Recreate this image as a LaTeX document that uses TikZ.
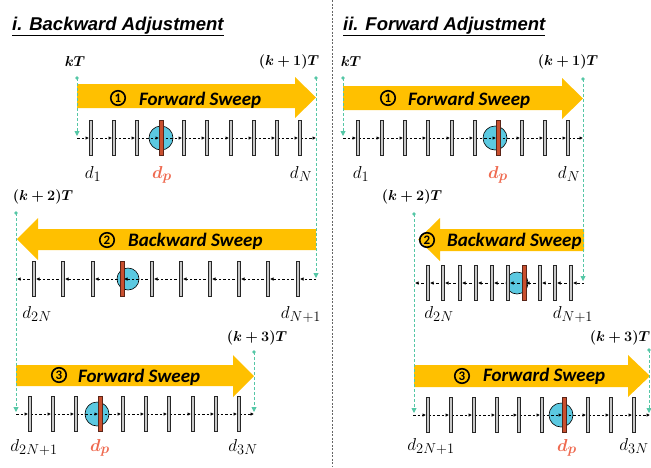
\documentclass[tikz,border=0pt]{standalone}
\usepackage{fontspec}
\usepackage{bm}
\usetikzlibrary{arrows.meta}
\newfontfamily\titlefont{Liberation Sans}
\newfontfamily\sweepfont{Carlito}
\definecolor{sweepyellow}{HTML}{FFC000}
\definecolor{tealc}{HTML}{55C7A6}
\definecolor{dpcol}{HTML}{EF6A50}
\definecolor{ballcol}{HTML}{5BC9E1}
\definecolor{redbarc}{HTML}{C9502F}
\definecolor{redbarline}{HTML}{5A2518}
\definecolor{bargray}{HTML}{C8C8C8}
\tikzset{
  trk/.style={draw=black, line width=0.6pt, dash pattern=on 2.5pt off 2pt, -{Latex[length=3.5pt,width=3.5pt]}},
  tealarr/.style={draw=tealc, line width=0.9pt, dash pattern=on 3pt off 2pt, -{Triangle[length=5pt,width=5pt]}},
  barbox/.style={draw=black!85, fill=bargray, line width=0.6pt},
  redbox/.style={draw=redbarline, fill=redbarc, line width=0.6pt},
  ball/.style={draw=black, fill=ballcol, line width=0.6pt},
  sweepbody/.style={fill=sweepyellow, draw=none},
  sweeptext/.style={anchor=base west, inner sep=0pt, font=\sweepfont\bfseries\itshape\fontsize{19}{19}\selectfont},
  numcirc/.style={circle, draw=black, line width=1.6pt, inner sep=0pt, minimum size=14.5pt, font=\sweepfont\bfseries\fontsize{13}{13}\selectfont},
  titletext/.style={anchor=base west, inner sep=0pt, font=\titlefont\bfseries\itshape\fontsize{18.5}{20}\selectfont},
  timelab/.style={inner sep=0pt, font=\fontsize{15.5}{15.5}\selectfont},
  dlab/.style={anchor=base, inner sep=0pt, font=\fontsize{19}{19}\selectfont},
  dplab/.style={dlab, text=dpcol},
  tdot/.style={fill=tealc}
}
% forward track: y, x-start, x-end, bar list (ascending), last bar
\newcommand{\myfwdtrack}[5]{%
  \foreach \bx [remember=\bx as \px (initially #2)] in {#4}{%
    \draw[trk] (\px,#1) -- (\bx-2,#1);}
  \draw[trk] (#5,#1) -- (#3,#1);}
% backward track: y, x-left, x-right, bar list (descending), leftmost bar
\newcommand{\mybwdtrack}[5]{%
  \foreach \bx [remember=\bx as \px (initially #3)] in {#4}{%
    \draw[trk] (\px,#1) -- (\bx+2,#1);}
  \draw[trk] (#5,#1) -- (#2,#1);}
\newcommand{\mybars}[2]{%
  \foreach \bx in {#2}{\draw[barbox] (\bx-1.7,#1-17.5) rectangle (\bx+1.7,#1+17.5);}}
\newcommand{\myredbar}[2]{%
  \draw[redbox] (#2-1.8,#1-17.5) rectangle (#2+1.8,#1+17.5);}

\begin{document}
\begin{tikzpicture}[x=1pt,y=-1pt]
\useasboundingbox[fill=white] (0,0) rectangle (651,467);

% divider
\draw[gray!80!black, line width=0.7pt, dash pattern=on 2pt off 1.5pt] (332,0) -- (332,467);

% titles
\node[titletext] (t1) at (12,30) {\underline{i. Backward Adjustment}};
\node[titletext] (t2) at (343,30) {\underline{ii. Forward Adjustment}};

% ================= LEFT =================
% sweep arrows
\fill[sweepbody] (77,84) -- (295,84) -- (295,77) -- (316,97.5) -- (295,118) -- (295,108) -- (77,108) -- cycle;
\fill[sweepbody] (316,229) -- (38,229) -- (38,218) -- (17,239) -- (38,260) -- (38,250) -- (316,250) -- cycle;
\fill[sweepbody] (16,365) -- (233,365) -- (233,355) -- (254,376) -- (233,397) -- (233,386) -- (16,386) -- cycle;
\node[numcirc] (ln1) at (118,98) {1};
\node[sweeptext] (ls1) at (139,105) {Forward Sweep};
\node[numcirc] (ln2) at (107,240) {2};
\node[sweeptext] (ls2) at (128,246) {Backward Sweep};
\node[numcirc] (ln3) at (59,375) {3};
\node[sweeptext] (ls3) at (78,382) {Forward Sweep};

% row 1
\draw[ball] (161,138) circle[radius=12pt];
\myfwdtrack{138}{77}{316}{91,114,137,161,184,207,231,254,277,300}{300}
\mybars{138}{91,114,137,184,207,231,254,277,300}
\myredbar{138}{161}
% row 2
\draw[ball] (128,279) circle[radius=11pt];
\mybwdtrack{279}{17}{316}{298,268,239,210,181,152,122,93,63,34}{34}
\mybars{279}{34,63,93,152,181,210,239,268,298}
\myredbar{279}{122}
% row 3
\draw[ball] (97,414) circle[radius=12pt];
\myfwdtrack{414}{16}{254}{30,53,76,100,123,146,169,193,216,239}{239}
\mybars{414}{30,53,76,123,146,169,193,216,239}
\myredbar{414}{100}

% time labels
\node[timelab] (lk0) at (75,61) {$\bm{kT}$};
\node[timelab] (lk1) at (289,62) {$\bm{(k+1)T}$};
\node[timelab] (lk2) at (43,197) {$\bm{(k+2)T}$};
\node[timelab] (lk3) at (257,338) {$\bm{(k+3)T}$};
% d labels
\node[dlab] (ld1) at (93,178) {$d_1$};
\node[dplab] (ldp1) at (162,178) {$\bm{d_p}$};
\node[dlab] (ldN) at (301,178) {$d_N$};
\node[dlab] (ld2N) at (37,318) {$d_{2N}$};
\node[dlab] (ldN1) at (301,318) {$d_{N+1}$};
\node[dlab] (ld2N1) at (34,451) {$d_{2N+1}$};
\node[dplab] (ldp3) at (100,451) {$\bm{d_p}$};
\node[dlab] (ld3N) at (243,451) {$d_{3N}$};

% teal connectors
\coordinate (L1a) at (77,78);  \coordinate (L1b) at (77,136);
\coordinate (L1c) at (316,78); \coordinate (L1d) at (316,278);
\coordinate (L2a) at (16,213); \coordinate (L2b) at (16,412);
\coordinate (L3a) at (254,352); \coordinate (L3b) at (254,412);
\foreach \s/\e in {L1a/L1b, L1c/L1d, L2a/L2b, L3a/L3b}{
  \fill[tdot] (\s) circle[radius=1.8pt];
  \draw[tealarr] (\s) -- (\e);}

% ================= RIGHT =================
\fill[sweepbody] (343,86) -- (562,86) -- (562,78) -- (583,98.5) -- (562,119) -- (562,110) -- (343,110) -- cycle;
\fill[sweepbody] (584,229) -- (440,229) -- (440,218) -- (418,239.5) -- (440,261) -- (440,251) -- (584,251) -- cycle;
\fill[sweepbody] (414,365) -- (628,365) -- (628,355) -- (650,376) -- (628,397) -- (628,387) -- (414,387) -- cycle;
\node[numcirc] (rn1) at (388,98) {1};
\node[sweeptext] (rs1) at (408,105) {Forward Sweep};
\node[numcirc] (rn2) at (427,240) {2};
\node[sweeptext] (rs2) at (447,246) {Backward Sweep};
\node[numcirc] (rn3) at (462,376) {3};
\node[sweeptext] (rs3) at (483,381) {Forward Sweep};

% row 1
\draw[ball] (495,138) circle[radius=12pt];
\myfwdtrack{138}{343}{583}{358,382,405,428,452,475,498,522,545,568}{568}
\mybars{138}{358,382,405,428,452,475,522,545,568}
\myredbar{138}{498}
% row 2
\draw[ball] (517,283) circle[radius=11pt];
\mybwdtrack{283}{415}{584}{571,555,540,524,508,492,476,460,443,428}{428}
\mybars{283}{428,443,460,476,492,508,540,555,571}
\myredbar{283}{524}
% row 3
\draw[ball] (561,415) circle[radius=12pt];
\myfwdtrack{415}{413}{650}{428,451,474,497,519,542,564,588,611,634}{634}
\mybars{415}{428,451,474,497,519,542,588,611,634}
\myredbar{415}{564}

% time labels
\node[timelab] (rk0) at (351,61) {$\bm{kT}$};
\node[timelab] (rk1) at (568,62) {$\bm{(k+1)T}$};
\node[timelab] (rk2) at (412,197) {$\bm{(k+2)T}$};
\node[timelab] (rk3) at (620,338) {$\bm{(k+3)T}$};
% d labels
\node[dlab] (rd1) at (361,178) {$d_1$};
\node[dplab] (rdp1) at (498,178) {$\bm{d_p}$};
\node[dlab] (rdN) at (569,178) {$d_N$};
\node[dlab] (rd2N) at (439,318) {$d_{2N}$};
\node[dlab] (rdN1) at (573,318) {$d_{N+1}$};
\node[dlab] (rd2N1) at (431,450) {$d_{2N+1}$};
\node[dplab] (rdp3) at (567,451) {$\bm{d_p}$};
\node[dlab] (rd3N) at (634,450) {$d_{3N}$};

% teal connectors
\coordinate (R1a) at (343,78);  \coordinate (R1b) at (343,136);
\coordinate (R1c) at (583,79);  \coordinate (R1d) at (583,281);
\coordinate (R2a) at (414,214); \coordinate (R2b) at (414,413);
\coordinate (R3a) at (649,350); \coordinate (R3b) at (649,413);
\foreach \s/\e in {R1a/R1b, R1c/R1d, R2a/R2b, R3a/R3b}{
  \fill[tdot] (\s) circle[radius=1.8pt];
  \draw[tealarr] (\s) -- (\e);}
\end{tikzpicture}
\end{document}
